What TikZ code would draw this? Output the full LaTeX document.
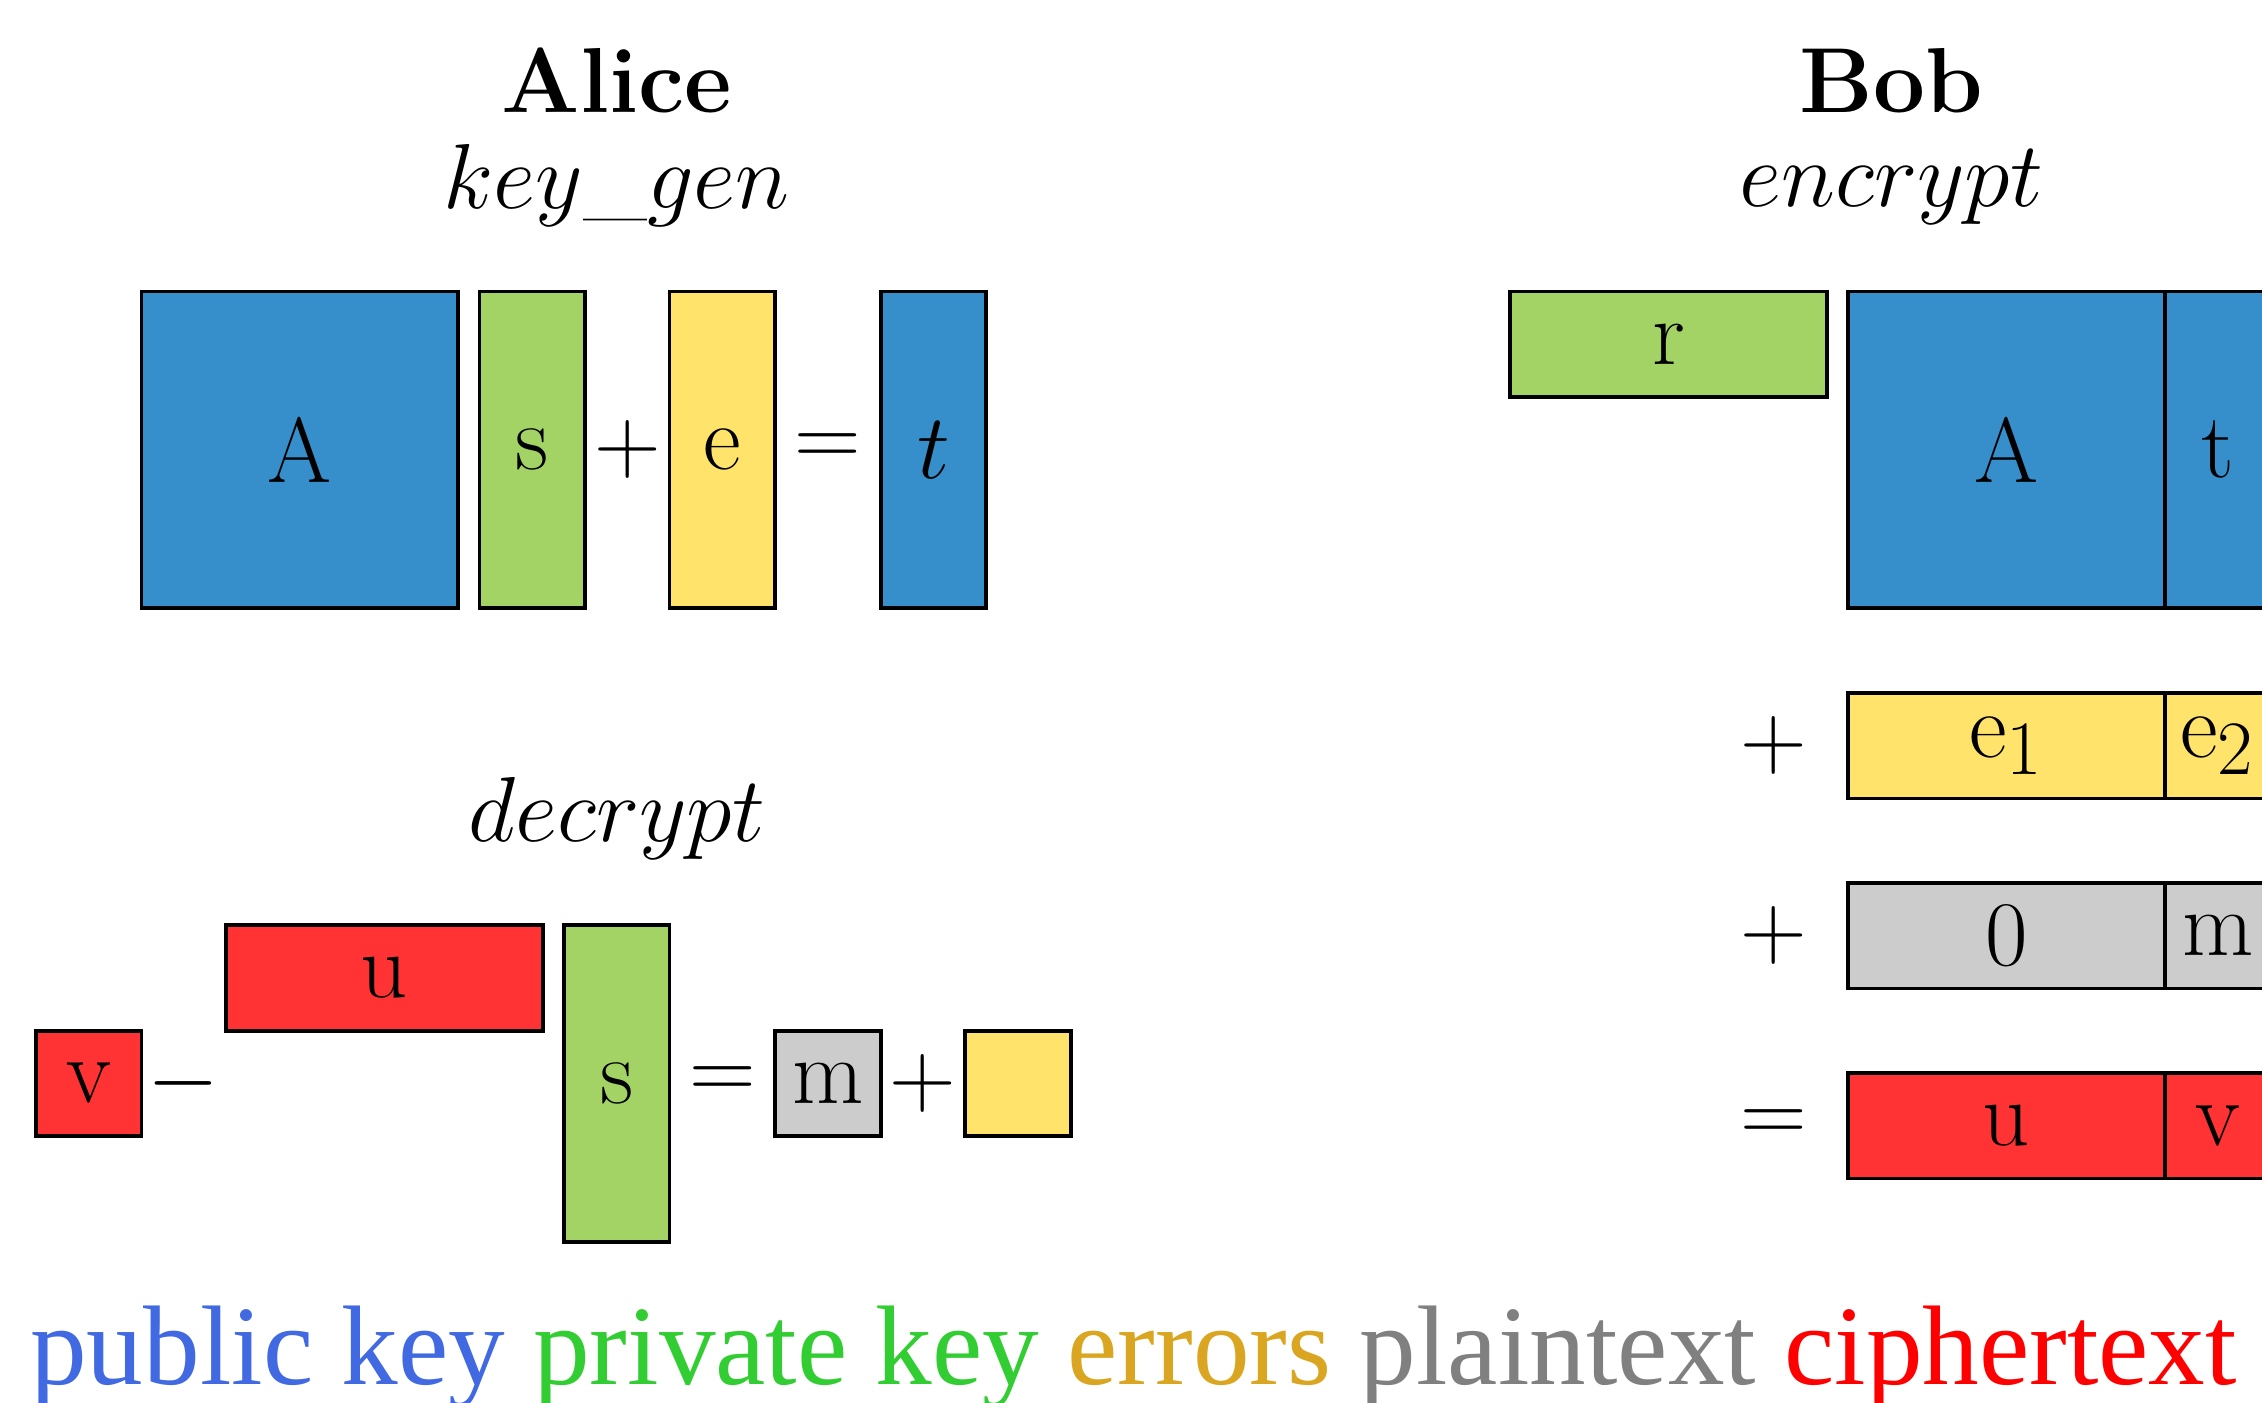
\documentclass[tikz,border=0pt]{standalone}
\usepackage{amsmath}
\usepackage{fontspec}
\newfontfamily\legendfont{Liberation Serif}

\definecolor{pubblue}{RGB}{54,142,203}
\definecolor{privgreen}{RGB}{163,211,101}
\definecolor{errgold}{RGB}{255,227,106}
\definecolor{plaingray}{RGB}{204,204,204}
\definecolor{ciphred}{RGB}{255,51,51}
\definecolor{lgdblue}{RGB}{65,105,225}
\definecolor{lgdgreen}{RGB}{50,205,50}
\definecolor{lgdgold}{RGB}{218,165,32}
\definecolor{lgdgray}{RGB}{128,128,128}
\definecolor{lgdred}{RGB}{255,0,0}

\begin{document}
\begin{tikzpicture}[
        blk/.style={draw=black, line width=1pt, inner sep=0pt, outer sep=0pt, font=\Huge},
        sq/.style={blk, minimum width=1cm, minimum height=1cm},
        tall/.style={blk, minimum width=1cm, minimum height=3cm},
        wide/.style={blk, minimum width=3cm, minimum height=1cm},
        big/.style={blk, minimum width=3cm, minimum height=3cm},
        op/.style={font=\Huge, inner sep=0pt},
        ttl/.style={font=\Huge, anchor=base, inner sep=0pt}]
            \clip (-0.34,-10.52) rectangle (21.08,2.76);

            % Alice: key_gen
            \node[ttl, font=\Huge\bfseries] (alice) at (5.5,1.69) {Alice};
            \node[ttl] (keygen) at (5.5,0.79) {$key\_gen$};

            \node[big, fill=pubblue] (kgA) at (2.5,-1.5) {A};
            \node[tall, fill=privgreen] (kgS) at (4.7,-1.5) {s};
            \node[op] (kgPlus) at (5.6,-1.5) {$+$};
            \node[tall, fill=errgold] (kgE) at (6.5,-1.5) {e};
            \node[op] (kgEq) at (7.5,-1.5) {$=$};
            \node[tall, fill=pubblue] (kgT) at (8.5,-1.5) {$t$};

            % Alice: decrypt
            \node[ttl] (decrypt) at (5.5,-5.21) {$decrypt$};

            \node[sq, fill=ciphred] (dcV) at (0.5,-7.5) {v};
            \node[op] (dcMinus) at (1.4,-7.5) {$-$};
            \node[wide, fill=ciphred] (dcU) at (3.3,-6.5) {u};
            \node[tall, fill=privgreen] (dcS) at (5.5,-7.5) {s};
            \node[op] (dcEq) at (6.5,-7.5) {$=$};
            \node[sq, fill=plaingray] (dcM) at (7.5,-7.5) {m};
            \node[op] (dcPlus) at (8.4,-7.5) {$+$};
            \node[sq, fill=errgold] (dcE) at (9.3,-7.5) {};

            % Bob: encrypt
            \node[ttl, font=\Huge\bfseries] (bob) at (17.57,1.69) {Bob};
            \node[ttl] (encrypt) at (17.57,0.8) {$encrypt$};

            \node[wide, fill=privgreen] (enR) at (15.46,-0.5) {r};
            \node[big, fill=pubblue] (enA) at (18.66,-1.5) {A};
            \node[tall, fill=pubblue] (enT) at (20.66,-1.5) {t};

            \node[op] (enPlusE) at (16.46,-4.3) {$+$};
            \node[wide, fill=errgold] (enEa) at (18.66,-4.3) {e$_1$};
            \node[sq, fill=errgold] (enEb) at (20.66,-4.3) {e$_2$};

            \node[op] (enPlusM) at (16.46,-6.1) {$+$};
            \node[wide, fill=plaingray] (enZero) at (18.66,-6.1) {0};
            \node[sq, fill=plaingray] (enM) at (20.66,-6.1) {m};

            \node[op] (enEq) at (16.46,-7.9) {$=$};
            \node[wide, fill=ciphred] (enU) at (18.66,-7.9) {u};
            \node[sq, fill=ciphred] (enV) at (20.66,-7.9) {v};

            % legend
            \node[anchor=base west, inner sep=0pt, font=\legendfont\fontsize{30.5}{36}\selectfont] (legend) at (-0.06,-10.35)
                {\textcolor{lgdblue}{public key} \textcolor{lgdgreen}{private key} \textcolor{lgdgold}{errors} \textcolor{lgdgray}{plaintext} \textcolor{lgdred}{ciphertext}};
\end{tikzpicture}
\end{document}
